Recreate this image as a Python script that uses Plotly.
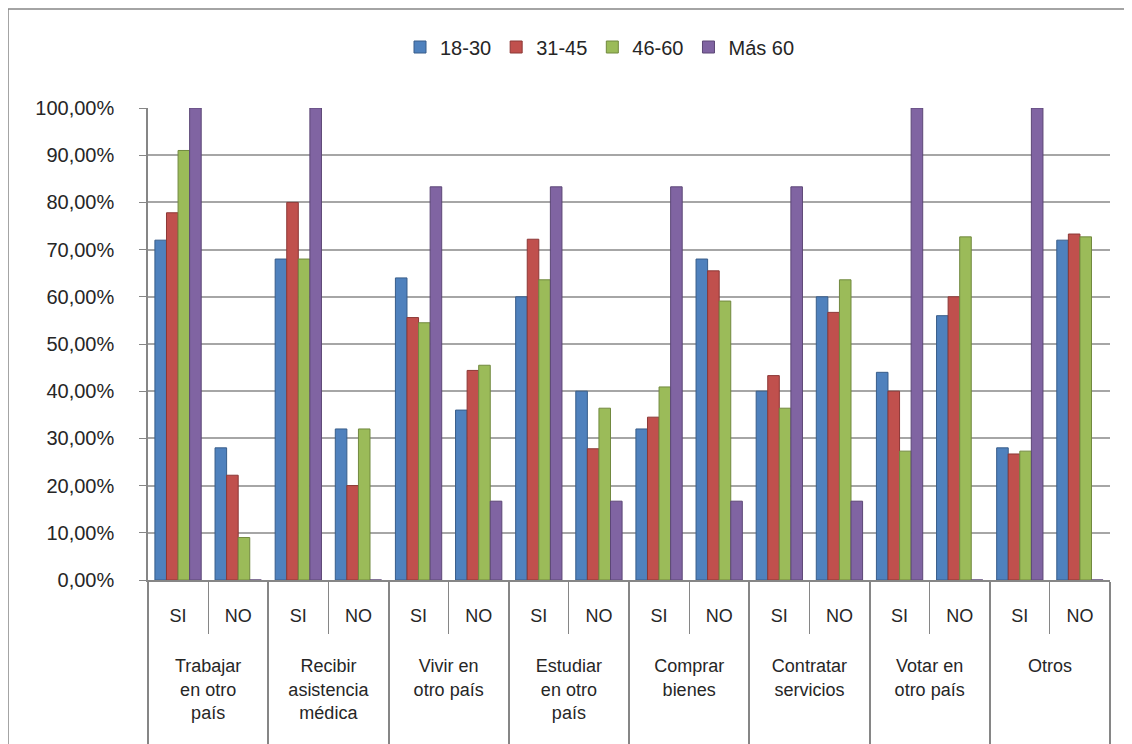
import plotly.graph_objects as go

categories = ["Trabajar<br>en otro<br>país", "Recibir<br>asistencia<br>médica", "Vivir en<br>otro país",
              "Estudiar<br>en otro<br>país", "Comprar<br>bienes", "Contratar<br>servicios",
              "Votar en<br>otro país", "Otros"]
answers = ["SI", "NO"]
series_names = ["18-30", "31-45", "46-60", "Más 60"]

v_18_30 = [0.72, 0.28, 0.68, 0.32, 0.64, 0.36, 0.60, 0.40, 0.32, 0.68, 0.40, 0.60, 0.44, 0.56, 0.28, 0.72]
v_31_45 = [0.778, 0.222, 0.80, 0.20, 0.556, 0.444, 0.722, 0.278, 0.345, 0.655, 0.433, 0.567, 0.40, 0.60, 0.267, 0.733]
v_46_60 = [0.91, 0.09, 0.68, 0.32, 0.545, 0.455, 0.636, 0.364, 0.409, 0.591, 0.364, 0.636, 0.273, 0.727, 0.273, 0.727]
v_mas60 = [1.0, 0.0, 1.0, 0.0, 0.833, 0.167, 0.833, 0.167, 0.833, 0.167, 0.833, 0.167, 1.0, 0.0, 1.0, 0.0]

colors = ["#4F81BD", "#C0504D", "#9BBB59", "#8064A2"]
edge = ["#385D8A", "#8C3836", "#71893F", "#5C4776"]

# trailing blank line lets the group dividers run to the bottom edge
outer = [c + "<br>\u00a0" for c in categories for _ in answers]
# trailing blank lines widen the gap between the two label rows
inner = [a + "<br>\u00a0<br>\u00a0" for _ in categories for a in answers]

fig = go.Figure()
for name, vals, col, ec in zip(series_names, [v_18_30, v_31_45, v_46_60, v_mas60], colors, edge):
    fig.add_trace(go.Bar(
        x=[outer, inner], y=vals, name=name,
        marker=dict(color=col, line=dict(color=ec, width=1)),
    ))

# page body adds an 8px offset; figure is sized to fit the window
W, H = 1124, 736
L, R, T, B = 140, 22, 100, 164
fig.update_layout(
    width=W, height=H,
    paper_bgcolor="white", plot_bgcolor="white",
    margin=dict(l=L, r=R, t=T, b=B),
    barmode="group", bargap=0.23, bargroupgap=0.0,
    separators=",.",
    font=dict(family="Liberation Sans, Arial, sans-serif", size=18, color="#262626"),
    legend=dict(orientation="h", x=592 / W, xanchor="center", xref="container",
                y=1 - 39 / H, yanchor="middle", yref="container",
                font=dict(size=20, color="#262626"), traceorder="normal"),
    showlegend=True,
)
fig.update_yaxes(
    range=[0, 1.0], dtick=0.1, tickformat=".2%", automargin=False,
    showgrid=True, gridcolor="#A6A6A6", gridwidth=1.5,
    showline=True, linecolor="#868686", linewidth=1.5,
    ticks="outside", ticklen=7, tickcolor="#868686", ticklabelstandoff=21,
    tickfont=dict(size=20, color="#262626"), zeroline=False,
)
fig.update_xaxes(
    showline=True, linecolor="#868686", linewidth=1.5, automargin=False,
    ticks="outside", tickson="boundaries", ticklen=52, tickcolor="#868686",
    ticklabelstandoff=19,
    showdividers=True, dividercolor="#868686", dividerwidth=1.5,
    tickfont=dict(size=18, color="#262626"),
)
ph = H - T - B
pw = W - L - R
# chart frame (left and top edges visible)
fig.add_shape(type="rect", xref="paper", yref="paper",
              x0=(0 - L) / pw, x1=(W + 20 - L) / pw,
              y0=-(B + 20) / ph, y1=(ph + T - 1) / ph,
              line=dict(color="#868686", width=1.5), layer="below")

fig.write_html("out.html")
